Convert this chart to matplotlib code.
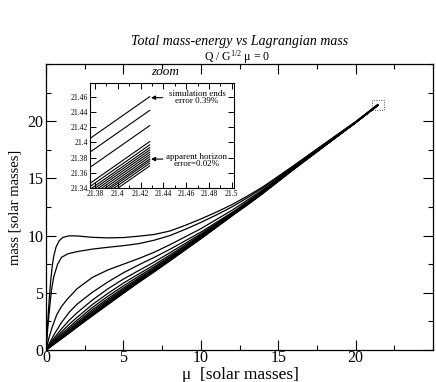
import matplotlib
matplotlib.use("Agg")
import matplotlib.pyplot as plt
from matplotlib.patches import Rectangle
from matplotlib.ticker import MultipleLocator, FixedLocator

plt.rcParams['font.family'] = ['Liberation Serif', 'DejaVu Serif']
plt.rcParams['mathtext.fontset'] = 'custom'
plt.rcParams['mathtext.rm'] = 'Liberation Serif'
plt.rcParams['mathtext.it'] = 'Liberation Serif:italic'

# ---------------- data ----------------
mu_A = [0, 0.1, 0.2, 0.3, 0.4, 0.5, 0.65, 0.85, 1.1, 1.5, 2, 3, 4, 5, 6, 7, 8, 9, 10,
        11, 12, 13, 14, 16, 18, 20, 21.3, 21.428]
m_A = [0, 2.2, 4.3, 6.0, 7.3, 8.2, 9.0, 9.55, 9.85, 9.98, 9.97, 9.85, 9.8, 9.83, 9.95,
       10.1, 10.4, 10.9, 11.45, 12.05, 12.7, 13.45, 14.25, 16.12, 18.05, 19.96, 21.326, 21.46]

mu_B = [0, 0.1, 0.2, 0.35, 0.5, 0.75, 1.0, 1.4, 2, 3, 4, 5, 6, 7, 8, 9, 10, 11, 12, 13,
        14, 16, 18, 20, 21.3, 21.428]
m_B = [0, 1.7, 3.2, 5.2, 6.4, 7.5, 8.1, 8.4, 8.6, 8.82, 8.98, 9.12, 9.3, 9.6, 10.0, 10.55,
       11.15, 11.8, 12.5, 13.3, 14.15, 16.07, 18.02, 19.94, 21.308, 21.442]

mu_C = [0, 0.2, 0.4, 0.7, 1, 1.35, 2, 3, 4, 5, 6, 7, 8, 9, 10, 11, 12, 13, 14, 16, 18, 20,
        21.3, 21.428]
m_C = [0, 1.1, 2.0, 3.1, 3.8, 4.4, 5.35, 6.35, 7.0, 7.5, 8.0, 8.55, 9.2, 9.9, 10.6, 11.4,
       12.2, 13.1, 14.0, 16.0, 17.98, 19.92, 21.288, 21.422]

mu_grid = [0, 0.5, 1, 1.5, 2, 3, 4, 5, 6, 7, 8, 9, 10, 11, 12, 13, 14, 16, 18, 20, 21.3, 21.428]
m_D = [0, 1.3, 2.4, 3.3, 4.0, 5.05, 5.95, 6.75, 7.45, 8.1, 8.8, 9.55, 10.3, 11.15, 12.0,
       12.95, 13.92, 15.95, 17.94, 19.9, 21.267, 21.401]
m_E = [0, 1.0, 1.85, 2.6, 3.25, 4.37, 5.35, 6.2, 6.95, 7.7, 8.5, 9.32, 10.15, 11.05, 11.95,
       12.9, 13.88, 15.92, 17.92, 19.895, 21.263, 21.3966]
m_F = [0, 0.85, 1.58, 2.25, 2.85, 3.98, 4.95, 5.85, 6.65, 7.45, 8.3, 9.17, 10.05, 10.97,
       11.9, 12.86, 13.85, 15.9, 17.9, 19.89, 21.259, 21.393]
m_G = [0, 0.74, 1.4, 2.0, 2.6, 3.72, 4.7, 5.6, 6.45, 7.28, 8.17, 9.07, 9.98, 10.92, 11.87,
       12.83, 13.82, 15.88, 17.89, 19.887, 21.256, 21.39]
m_H = [0, 0.66, 1.27, 1.84, 2.42, 3.52, 4.5, 5.42, 6.3, 7.16, 8.07, 8.99, 9.92, 10.88, 11.84,
       12.8, 13.79, 15.86, 17.88, 19.884, 21.253, 21.387]
m_I = [0, 0.6, 1.17, 1.73, 2.3, 3.37, 4.36, 5.3, 6.19, 7.07, 8.0, 8.93, 9.87, 10.84, 11.81,
       12.77, 13.77, 15.84, 17.87, 19.881, 21.25, 21.384]
m_J = [0, 0.56, 1.1, 1.65, 2.2, 3.25, 4.25, 5.2, 6.11, 7.01, 7.95, 8.89, 9.83, 10.81, 11.79,
       12.75, 13.75, 15.83, 17.86, 19.878, 21.247, 21.381]
m_K = [0, 0.53, 1.05, 1.58, 2.12, 3.16, 4.16, 5.12, 6.05, 6.96, 7.9, 8.85, 9.8, 10.78, 11.77,
       12.73, 13.73, 15.82, 17.85, 19.875, 21.244, 21.378]
m_L = [0, 0.51, 1.02, 1.53, 2.06, 3.09, 4.08, 5.05, 6.0, 6.91, 7.86, 8.81, 9.77, 10.76, 11.75,
       12.71, 13.71, 15.81, 17.845, 19.872, 21.2415, 21.3755]
m_M = [0, 0.5, 1.0, 1.5, 2.02, 3.03, 4.02, 5.0, 5.95, 6.87, 7.82, 8.78, 9.74, 10.73, 11.73,
       12.69, 13.69, 15.8, 17.84, 19.869, 21.2385, 21.3725]
m_N = [0, 0.49, 0.98, 1.48, 1.99, 2.99, 3.97, 4.95, 5.91, 6.84, 7.79, 8.75, 9.72, 10.71,
       11.71, 12.67, 13.67, 15.79, 17.835, 19.866, 21.235, 21.369]

series = [(mu_A, m_A), (mu_B, m_B), (mu_C, m_C)] + [
    (mu_grid, m) for m in (m_D, m_E, m_F, m_G, m_H, m_I, m_J, m_K, m_L, m_M, m_N)]

main_xticks = [0, 5, 10, 15, 20]
main_yticks = [0, 5, 10, 15, 20]
inset_xticks = [21.38, 21.40, 21.42, 21.44, 21.46, 21.48, 21.50]
inset_xlabels = ['21.38', '21.4', '21.42', '21.44', '21.46', '21.48', '21.5']
inset_yticks = [21.34, 21.36, 21.38, 21.40, 21.42, 21.44, 21.46]
inset_ylabels = ['21.34', '21.36', '21.38', '21.4', '21.42', '21.44', '21.46']

# ---------------- figure ----------------
W, H = 436, 382
fig = plt.figure(figsize=(W / 100, H / 100), dpi=100)

def fx(px):
    return px / W

def fy(py):
    return 1 - py / H

ax = fig.add_axes([fx(46), fy(350), fx(433) - fx(46), fy(64) - fy(350)])
for mu, m in series:
    ax.plot(mu, m, color='black', lw=0.9)
ax.set_xlim(0, 25)
ax.set_ylim(0, 25)
ax.xaxis.set_major_locator(FixedLocator(main_xticks))
ax.yaxis.set_major_locator(FixedLocator(main_yticks))
ax.xaxis.set_minor_locator(MultipleLocator(2.5))
ax.yaxis.set_minor_locator(MultipleLocator(2.5))
ax.tick_params(which='both', direction='in', top=True, right=True, labelsize=11.5)
ax.tick_params(which='major', length=7, width=0.8)
ax.tick_params(which='minor', length=3.5, width=0.8)
ax.tick_params(axis='x', pad=0)
ax.tick_params(axis='y', pad=2)
for s in ax.spines.values():
    s.set_linewidth(0.9)
fig.text(fx(240), fy(375), '\u03bc  [solar masses]', ha='center', va='center',
         fontsize=12.5)
ax.set_ylabel('mass [solar masses]', fontsize=10.5, labelpad=4)

# dotted zoom box
ax.add_patch(Rectangle((21.07, 21.02), 0.78, 0.81, fill=False, ls=(0, (1, 1.5)),
                       lw=0.7, color='0.3'))

fig.text(fx(240), fy(42), 'Total mass-energy vs Lagrangian mass', ha='center',
         va='center', fontsize=10, style='italic')
fig.text(fx(237), fy(57), 'Q / G$^{\\rm 1/2}$ \u03bc = 0',
         ha='center', va='center', fontsize=8.5)
fig.text(fx(165), fy(72), 'zoom', ha='center', va='center', fontsize=9.5, style='italic')

# ---------------- inset ----------------
axi = fig.add_axes([fx(90), fy(188), fx(234) - fx(90), fy(83) - fy(188)])
for mu, m in series:
    axi.plot(mu, m, color='black', lw=0.8)
axi.set_xlim(21.3756, 21.502)
axi.set_ylim(21.34, 21.478)
axi.set_xticks(inset_xticks)
axi.set_xticklabels(inset_xlabels)
axi.set_yticks(inset_yticks)
axi.set_yticklabels(inset_ylabels)
axi.xaxis.set_minor_locator(MultipleLocator(0.01))
axi.tick_params(which='both', direction='in', top=True, right=True, labelsize=5.5, pad=1.5)
axi.tick_params(which='major', length=4, width=0.7)
axi.tick_params(which='minor', length=2.5, width=0.7)
for s in axi.spines.values():
    s.set_linewidth(0.8)

arrow = dict(arrowstyle='-|>', lw=0.8, color='black', mutation_scale=6,
             shrinkA=0, shrinkB=0)
axi.annotate('', xy=(21.4292, 21.4587), xytext=(21.4395, 21.4587), arrowprops=arrow)
axi.annotate('', xy=(21.4292, 21.378), xytext=(21.4395, 21.378), arrowprops=arrow)
axi.text(21.4695, 21.459, 'simulation ends\nerror 0.39%', ha='center', va='center',
         fontsize=6.5, linespacing=0.85)
axi.text(21.4695, 21.3765, 'apparent horizon\nerror=0.02%', ha='center', va='center',
         fontsize=6.5, linespacing=0.85)

fig.savefig('out.png', dpi=100)
